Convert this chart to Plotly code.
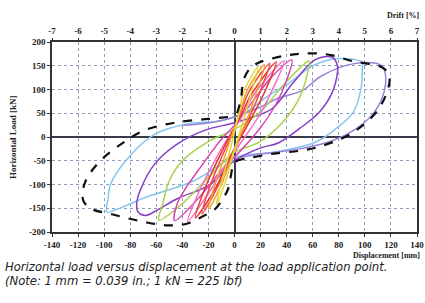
import plotly.graph_objects as go

# ---------------- data ----------------
DISP_TICKS = [-140, -120, -100, -80, -60, -40, -20, 0, 20, 40, 60, 80, 100, 120, 140]
DISP_LABELS = ["-140", "-120", "-100", "-80", "-60", "-40", "-20", "0", "20", "40",
               "60", "80", "100", "120", "140"]
DRIFT_TICKS = [-7, -6, -5, -4, -3, -2, -1, 0, 1, 2, 3, 4, 5, 6, 7]
DRIFT_LABELS = ["-7", "-6", "-5", "-4", "-3", "-2", "-1", "0", "1", "2", "3", "4", "5", "6", "7"]
LOAD_TICKS = [-200, -150, -100, -50, 0, 50, 100, 150, 200]
LOAD_LABELS = ["-200", "-150", "-100", "-50", "0", "50", "100", "150", "200"]

# envelope (black dashed)
ENV_X = [2, 5, 6, 8, 12, 18, 27, 40, 50, 62, 75, 90, 105, 113, 117, 119, 117, 113, 108, 100,
         90, 78, 63, 50, 30, 12, 2, -1, -3, -5, -9, -15, -25, -36, -51, -69, -95, -110, -116,
         -115, -105, -87, -69, -44, -20, 2]
ENV_Y = [50, 80, 105, 127, 145, 156, 164, 172, 175, 176, 172, 160, 153, 147, 138, 120, 95, 70,
         50, 28, 8, -8, -22, -29, -35, -44, -50, -60, -85, -110, -130, -152, -168, -182, -186,
         -179, -162, -151, -134, -98, -56, -15, 14, 31, 38, 44]

# light blue loop
LB_X = [78, 98, 98, 97, 91, 78, 62, 30, 0, -31, -69, -90, -98, -97, -95, -81, -61, -36, -8,
        10, 25, 42, 60, 78]
LB_Y = [165, 157, 144, 101, 52, 18, -11, -32, -42, -92, -128, -152, -158, -130, -99, -42, 6,
        28, 35, 55, 85, 114, 150, 165]

# violet branch (second cycle, large amplitude)
VI_X = [-40, -11, 19, 32, 52, 67, 93, 113, 116, 113, 105, 92, 75, 50, 20, 0]
VI_Y = [24, 34, 62, 80, 98, 129, 155, 150, 125, 80, 45, 15, -8, -25, -36, -45]

# purple loop
PU_X = [62, 75, 79, 79, 75, 65, 50, 34, 19, 0, -18, -44, -60, -68, -74, -75, -72, -61, -44,
        -23, -3, 12, 29, 45, 62]
PU_Y = [163, 168, 150, 136, 94, 52, 18, -12, -24, -50, -99, -130, -155, -165, -158, -140,
        -110, -56, -15, 14, 28, 40, 60, 114, 163]

# light green loop
GR_X = [57, 55, 48, 37, 19, 0, -20, -42, -58, -55, -50, -40, -19, -2, 19, 37, 50, 57]
GR_Y = [160, 123, 73, 31, -11, -32, -85, -145, -175, -140, -92, -50, -8, 13, 51, 108, 145, 160]

# magenta loop
MG_X = [44, 40, 32, 20, 6, -10, -28, -46, -44, -38, -28, -11, 0, 14, 28, 44]
MG_Y = [162, 120, 70, 20, -25, -70, -130, -176, -141, -110, -71, -8, 25, 75, 125, 162]

# pink loop
PK_X = [38, 30, 20, 8, -5, -18, -36, -28, -18, -8, 4, 15, 38]
PK_Y = [160, 105, 50, 0, -50, -110, -178, -120, -65, -15, 35, 90, 160]

# red loops
R1_X = [32, 24, 14, 5, -4, -14, -30, -23, -14, -5, 4, 13, 32]
R1_Y = [158, 100, 45, 0, -45, -105, -170, -110, -55, -5, 40, 90, 158]
R2_X = [27, 20, 12, 4, -4, -12, -25, -19, -11, -3, 4, 11, 27]
R2_Y = [155, 98, 45, 0, -50, -100, -162, -105, -50, 0, 45, 95, 155]

# orange loop
OR_X = [23, 17, 10, 3, -3, -10, -20, -15, -8, -2, 4, 10, 23]
OR_Y = [152, 95, 40, -5, -50, -100, -152, -100, -45, 5, 50, 100, 152]

# yellow loop
YE_X = [18, 13, 8, 3, -2, -7, -14, -10, -5, -1, 3, 7, 18]
YE_Y = [148, 95, 45, 0, -45, -95, -142, -95, -45, 0, 45, 95, 148]

LOOPS = [
    (LB_X, LB_Y, "#86c6ee"),
    (VI_X, VI_Y, "#9a80d8"),
    (PU_X, PU_Y, "#8440c4"),
    (GR_X, GR_Y, "#a8d24a"),
    (MG_X, MG_Y, "#d848b4"),
    (PK_X, PK_Y, "#f070c0"),
    (R1_X, R1_Y, "#e8302a"),
    (R2_X, R2_Y, "#f04848"),
    (OR_X, OR_Y, "#f3a232"),
    (YE_X, YE_Y, "#e2d83c"),
]

# ---------------- figure ----------------
fig = go.Figure()

for lx, ly, col in LOOPS:
    fig.add_trace(go.Scatter(x=lx, y=ly, mode="lines",
                             line=dict(color=col, width=1.5, shape="spline", smoothing=1.0),
                             hoverinfo="skip", showlegend=False))

fig.add_trace(go.Scatter(x=ENV_X, y=ENV_Y, mode="lines",
                         line=dict(color="#111111", width=2.2, dash="dash",
                                   shape="spline", smoothing=1.0),
                         hoverinfo="skip", showlegend=False))

# helper (invisible) trace so the top drift axis is drawn
fig.add_trace(go.Scatter(x=DRIFT_TICKS, y=[0] * len(DRIFT_TICKS), xaxis="x2", mode="markers",
                         marker=dict(opacity=0), hoverinfo="skip", showlegend=False))

tick_font = dict(family="Liberation Serif", size=9, color="#222222", weight="bold")
grid_col = "#8c9fba"

fig.update_layout(
    width=425, height=303,
    margin=dict(l=52, r=8, t=42, b=71, autoexpand=False),
    paper_bgcolor="white", plot_bgcolor="white",
    showlegend=False,
    xaxis=dict(range=[-140, 140], tickvals=DISP_TICKS, ticktext=DISP_LABELS,
               tickfont=tick_font, showgrid=True, gridcolor=grid_col, griddash="dot",
               gridwidth=1, zeroline=True, zerolinecolor="#3a3a4a", zerolinewidth=1.5,
               showline=True, linecolor="#333333", linewidth=1.5, mirror=True,
               ticks="outside", ticklen=3, tickcolor="#333333", automargin=False),
    xaxis2=dict(range=[-7, 7], tickvals=DRIFT_TICKS, ticktext=DRIFT_LABELS,
                overlaying="x", side="top", anchor="y", tickfont=tick_font,
                showgrid=False, zeroline=False, showline=False,
                ticks="outside", ticklen=3, tickcolor="#333333", automargin=False),
    yaxis=dict(range=[-200, 200], tickvals=LOAD_TICKS, ticktext=LOAD_LABELS,
               tickfont=tick_font, showgrid=True, gridcolor=grid_col, griddash="dot",
               gridwidth=1, zeroline=True, zerolinecolor="#3a3a4a", zerolinewidth=1.5,
               showline=True, linecolor="#333333", linewidth=1.5, mirror=True,
               ticks="outside", ticklen=3, tickcolor="#333333", automargin=False),
)

fig.add_annotation(text="Horizontal Load [kN]", xref="paper", yref="paper",
                   x=-0.107, y=0.5, textangle=-90, showarrow=False,
                   xanchor="center", yanchor="middle",
                   font=dict(family="Liberation Serif", size=9, color="#222222", weight="bold"))
fig.add_annotation(text="Drift [%]", xref="paper", yref="paper",
                   x=1.015, y=1.142, showarrow=False, xanchor="right", yanchor="middle",
                   font=dict(family="Liberation Serif", size=8, color="#222222", weight="bold"))
fig.add_annotation(text="Displacement [mm]", xref="paper", yref="paper",
                   x=1.015, y=-0.125, showarrow=False, xanchor="right", yanchor="middle",
                   font=dict(family="Liberation Serif", size=8, color="#222222", weight="bold"))
fig.add_annotation(text="Horizontal load versus displacement at the load application point.",
                   xref="paper", yref="paper", x=-0.134, y=-0.183, showarrow=False,
                   xanchor="left", yanchor="middle",
                   font=dict(family="DejaVu Sans", size=11.6, color="#222222", style="italic"))
fig.add_annotation(text="(Note: 1 mm = 0.039 in.; 1 kN = 225 lbf)",
                   xref="paper", yref="paper", x=-0.134, y=-0.259, showarrow=False,
                   xanchor="left", yanchor="middle",
                   font=dict(family="DejaVu Sans", size=11.6, color="#222222", style="italic"))

fig.write_html("out.html", post_script="document.body.style.margin='0px';",
               config={"displayModeBar": False})
